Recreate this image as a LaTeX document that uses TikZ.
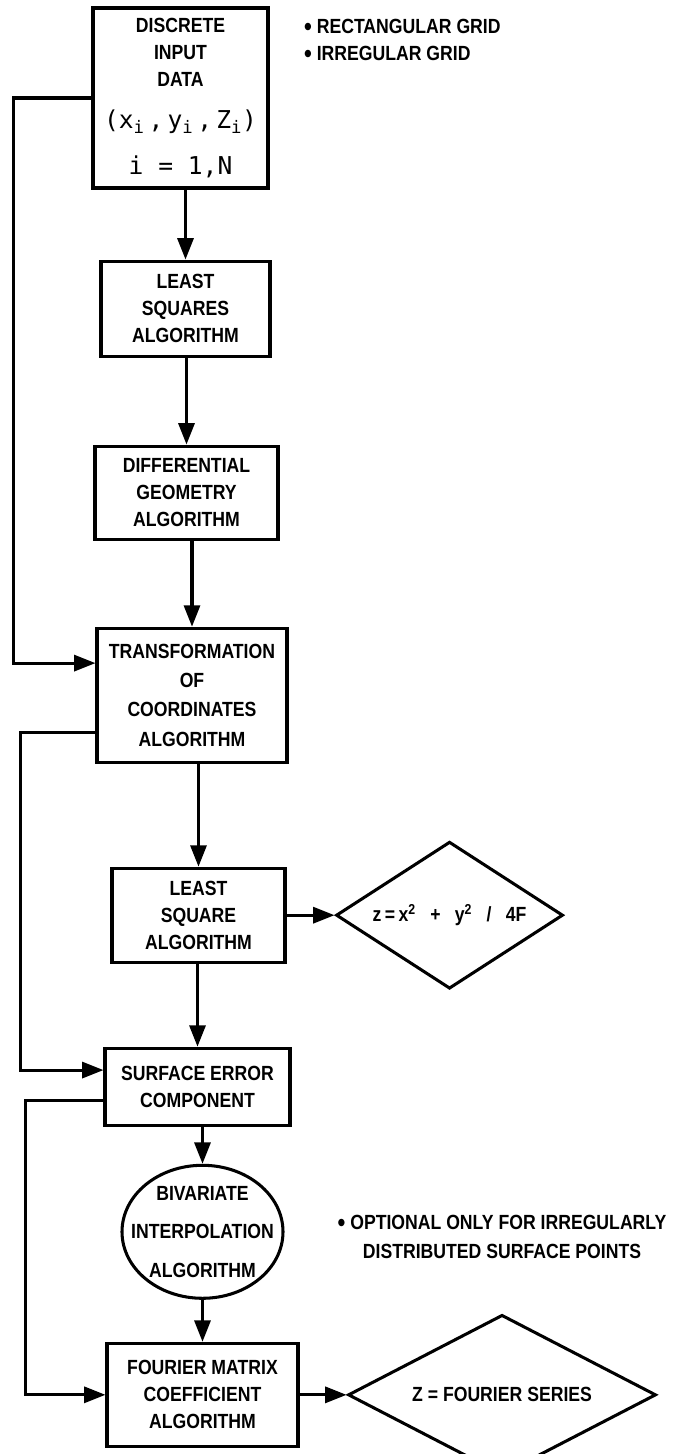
\documentclass[tikz,border=0pt]{standalone}
\usepackage{fontspec}
\setmainfont{Liberation Sans}[FakeStretch=0.86]
\newfontfamily\coordfont{DejaVu Sans Mono}
\usepackage{tikz}
\usetikzlibrary{shapes.geometric, arrows.meta, positioning}

\newcommand{\coordtext}{\coordfont\mdseries\fontsize{21}{23}\selectfont}
\newcommand{\dotmark}{\smash{\raisebox{-2pt}{\fontsize{22}{23}\selectfont\textbullet}}}

\begin{document}
\begin{tikzpicture}[
    every node/.style={font=\fontsize{17.5}{23}\selectfont\bfseries},
    block/.style={rectangle, draw, line width=2.6pt, align=center, inner sep=1pt},
    blob/.style={ellipse, draw, line width=2.6pt, align=center, inner xsep=-0.5cm, inner ysep=0pt},
    result/.style={diamond, draw, line width=2.6pt, align=center, inner sep=1pt, aspect=#1},
    arrow/.style={-{Triangle[length=0.64cm, width=0.48cm]}, line width=2.6pt}
]
\useasboundingbox (0,0) rectangle (20.37,-43.62);

% Input data
\node[block, minimum width=5.25cm, minimum height=5.4cm] (input) at (5.415,-2.94)
    {DISCRETE\\INPUT\\DATA\\[13pt]{\coordtext (x\textsubscript{i}\,,\,y\textsubscript{i}\,,\,Z\textsubscript{i})}\\[16pt]{\coordtext i = 1,N}};
\node[anchor=west, align=left] (gridnotes) at (9.0,-1.2) {\dotmark\ RECTANGULAR GRID\\\dotmark\ IRREGULAR GRID};

% Main chain
\node[block, minimum width=5.07cm, minimum height=2.85cm, below=2.1cm of input, xshift=0.15cm] (lsq) {LEAST\\SQUARES\\ALGORITHM};
\node[block, minimum width=5.49cm, minimum height=2.79cm, below=2.61cm of lsq, xshift=0.03cm] (diffgeo) {DIFFERENTIAL\\GEOMETRY\\ALGORITHM};
\node[block, minimum width=5.7cm, minimum height=4.02cm, below=2.58cm of diffgeo, xshift=0.165cm] (transform) {TRANSFORMATION\\[2pt]OF\\[2pt]COORDINATES\\[2pt]ALGORITHM};
\node[block, minimum width=5.19cm, minimum height=2.82cm, below=3.09cm of transform, xshift=0.195cm] (lsqfit) {LEAST\\SQUARE\\ALGORITHM};
\node[result=1.54, minimum width=6.81cm, minimum height=4.41cm, right=1.44cm of lsqfit] (paraboloid)
    {z\,=\,x\textsuperscript{2}\hspace{0.7em}+\hspace{0.7em}y\textsuperscript{2}\hspace{0.7em}/\hspace{0.7em}4F};
\node[block, minimum width=5.55cm, minimum height=2.31cm, below=2.49cm of lsqfit, xshift=-0.03cm] (surferr) {SURFACE ERROR\\COMPONENT};
\node[blob, minimum width=4.83cm, minimum height=3.99cm, below=1.11cm of surferr, xshift=0.15cm] (interp) {BIVARIATE\\[10pt]INTERPOLATION\\[10pt]ALGORITHM};
\node[align=center] (optnote) at (15.06,-37.11) {\dotmark\ OPTIONAL ONLY FOR IRREGULARLY\\[2pt]DISTRIBUTED SURFACE POINTS};
\node[block, minimum width=5.73cm, minimum height=3.09cm, below=1.26cm of interp] (fourier) {FOURIER MATRIX\\COEFFICIENT\\ALGORITHM};
\node[result=1.925, minimum width=9.24cm, minimum height=4.8cm, right=1.41cm of fourier] (series) {Z = FOURIER SERIES};

% Arrows down the chain
\draw[arrow] (input.south -| lsq.north) -- (lsq.north);
\draw[arrow] (lsq.south -| diffgeo.north) -- (diffgeo.north);
\draw[arrow] (diffgeo.south -| transform.north) -- (transform.north);
\draw[arrow] (transform.south -| lsqfit.north) -- (lsqfit.north);
\draw[arrow] (lsqfit.south -| surferr.north) -- (surferr.north);
\draw[arrow] (surferr.south -| interp.north) -- (interp.north);
\draw[arrow] (interp.south -| fourier.north) -- (fourier.north);
\draw[arrow] (lsqfit.east) -- (paraboloid.west);
\draw[arrow] (fourier.east) -- (series.west);

% Bypass lines on the left
\draw[arrow] (input.west) -- ++(-2.34,0) |- ([yshift=0.96cm]transform.west);
\draw[arrow] ([yshift=-1.11cm]transform.west) -- ++(-2.25,0) |- ([yshift=0.5cm]surferr.west);
\draw[arrow] ([yshift=-0.4cm]surferr.west) -- ++(-2.34,0) |- (fourier.west);

\end{tikzpicture}
\end{document}
